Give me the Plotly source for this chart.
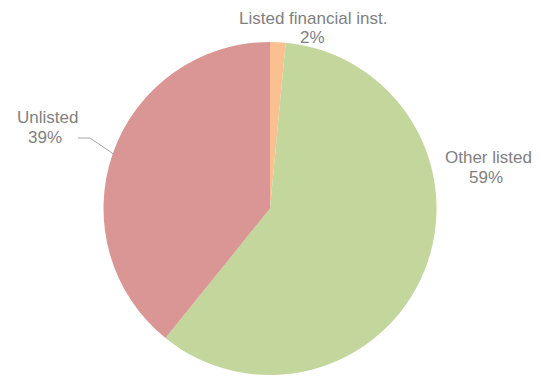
import plotly.graph_objects as go

categories = ["Listed financial inst.", "Other listed", "Unlisted"]
shares = [1.5, 59.3, 39.2]
colors = ["#FAC090", "#C3D69B", "#D99694"]

W, H = 544, 378
OFF = 8  # page body margin
cx, cy, r = 270 - OFF, 208.5 - OFF, 166.5

fig = go.Figure(go.Pie(
    labels=categories,
    values=shares,
    sort=False,
    direction="clockwise",
    rotation=0,
    textinfo="none",
    hoverinfo="label+percent",
    marker=dict(colors=colors, line=dict(width=0)),
    domain=dict(x=[(cx - r) / W, (cx + r) / W], y=[1 - (cy + r) / H, 1 - (cy - r) / H]),
    showlegend=False,
))

# label positions (pixel centres): (name x, name y, pct x, pct y)
label_pos = [(312.5, 18.5, 312.5, 37.5), (488, 157, 486, 177.5), (47, 117, 45, 137.5)]
font = dict(family="Liberation Sans, Arial, sans-serif", size=17, color="#7F7F7F")
anns = []
for name, val, (nx, ny, px, py) in zip(categories, shares, label_pos):
    for txt, x, y in ((name, nx, ny), (f"{round(val)}%", px, py)):
        anns.append(dict(
            x=(x - OFF) / W, y=1 - (y - OFF) / H, xref="paper", yref="paper",
            text=txt, showarrow=False, font=font,
            xanchor="center", yanchor="middle",
        ))

# leader line for Unlisted
pts = [(78, 138), (90, 138), (115, 155)]
path = "M " + " L ".join(f"{(x - OFF) / W},{1 - (y - OFF) / H}" for x, y in pts)
fig.update_layout(
    width=W, height=H,
    margin=dict(l=0, r=0, t=0, b=0),
    paper_bgcolor="white", plot_bgcolor="white",
    annotations=anns,
    shapes=[dict(type="path", xref="paper", yref="paper", path=path,
                 line=dict(color="#A6A6A6", width=1))],
)
fig.write_html("out.html")
